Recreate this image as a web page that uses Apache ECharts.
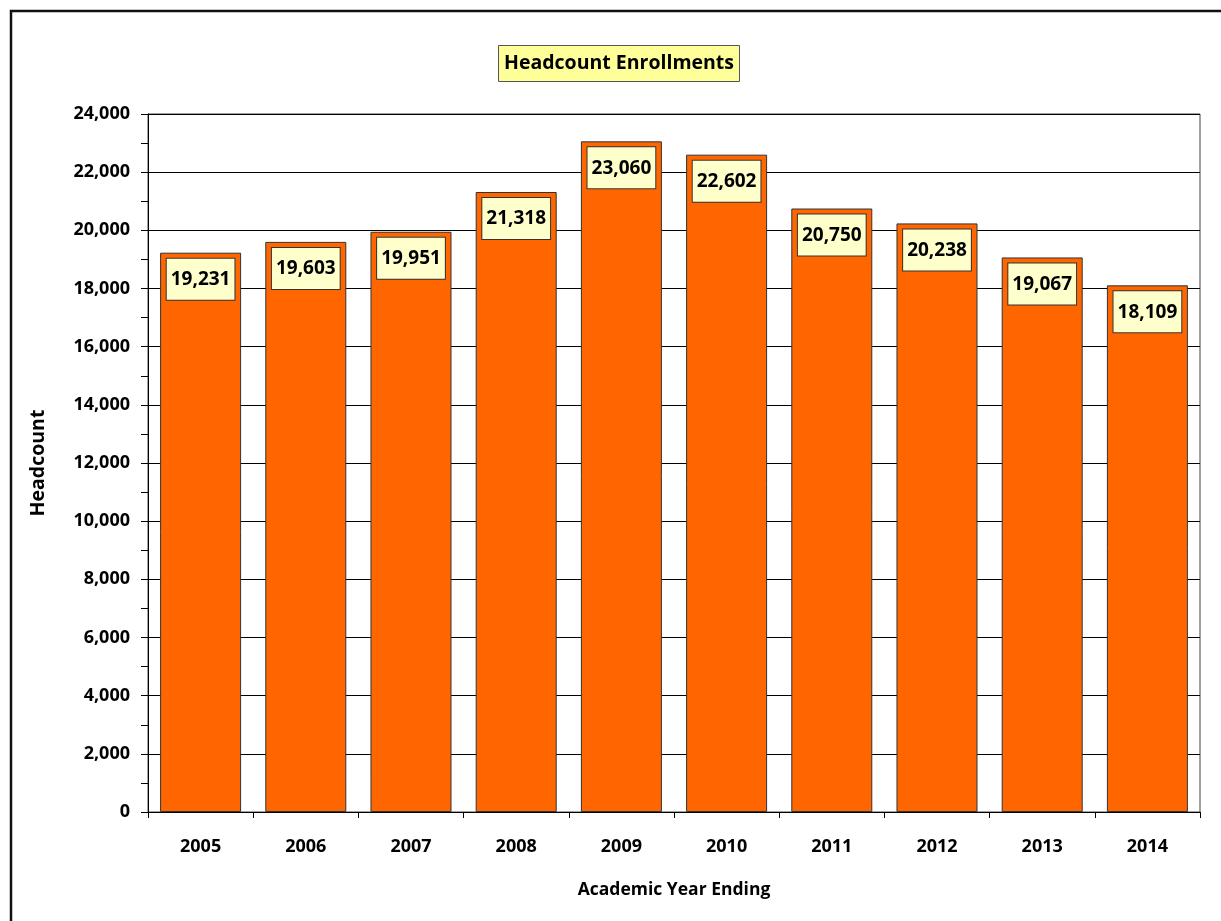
<!DOCTYPE html>
<html><head><meta charset="utf-8">
<script src="https://cdn.jsdelivr.net/npm/echarts@6/dist/echarts.min.js"></script>
<style>html,body{margin:0;padding:0;background:#fff}#c{width:1221px;height:921px}</style>
</head><body><div id="c"></div>
<script>
const years = ['2005','2006','2007','2008','2009','2010','2011','2012','2013','2014'];
const headcount = [19231,19603,19951,21318,23060,22602,20750,20238,19067,18109];
const titleText = 'Headcount Enrollments';
const yName = 'Headcount';
const xName = 'Academic Year Ending';
const FONT = '"Open Sans", "Liberation Sans", sans-serif';

const chart = echarts.init(document.getElementById('c'));
chart.setOption({
  animation:false,
  backgroundColor:'#fff',
  title:{
    text:titleText, left:498, top:45,
    backgroundColor:'#FFFF99', borderColor:'#555', borderWidth:1,
    padding:[6,6,6,6],
    textStyle:{fontFamily:FONT, fontWeight:'bold', fontSize:19.5, lineHeight:25, color:'#000'}
  },
  graphic:[{type:'rect', shape:{x:11,y:11,width:1240,height:940},
    style:{fill:'none', stroke:'#111', lineWidth:2.5}, silent:true}],
  grid:{left:148, right:21, top:114, bottom:109, show:true, borderColor:'#444', borderWidth:1, backgroundColor:'transparent'},
  xAxis:{
    type:'category', data:years,
    name:xName, nameLocation:'middle', nameGap:69,
    nameTextStyle:{fontFamily:FONT, fontWeight:'bold', fontSize:17.5, color:'#000'},
    axisLine:{lineStyle:{color:'#000', width:1}},
    axisTick:{show:true, alignWithLabel:false, length:6, lineStyle:{color:'#000'}},
    axisLabel:{fontFamily:FONT, fontWeight:'bold', fontSize:18, color:'#000', margin:26}
  },
  yAxis:{
    type:'value', min:0, max:24000, interval:2000,
    name:yName, nameLocation:'middle', nameGap:100, nameRotate:90,
    nameTextStyle:{fontFamily:FONT, fontWeight:'bold', fontSize:19.5, color:'#000'},
    axisLine:{show:true, lineStyle:{color:'#000', width:1}},
    axisTick:{show:true, length:7, lineStyle:{color:'#000'}},
    minorTick:{show:true, splitNumber:2, length:7, lineStyle:{color:'#000'}},
    splitLine:{show:true, lineStyle:{color:'#000', width:1}},
    axisLabel:{fontFamily:FONT, fontWeight:'bold', fontSize:18, color:'#000', margin:18,
      formatter:v=>v.toLocaleString('en-US')}
  },
  series:[{
    type:'bar', data:headcount, barCategoryGap:'23%',
    itemStyle:{color:'#FF6600', borderColor:'#333', borderWidth:1},
    label:{show:true, position:'insideTop', distance:6,
      formatter:p=>p.value.toLocaleString('en-US'),
      fontFamily:FONT, fontWeight:'bold', fontSize:19, lineHeight:22, color:'#000',
      backgroundColor:'#FFFFCC', borderColor:'#333', borderWidth:1,
      padding:[10,4,9,4]}
  }]
});
</script></body></html>
